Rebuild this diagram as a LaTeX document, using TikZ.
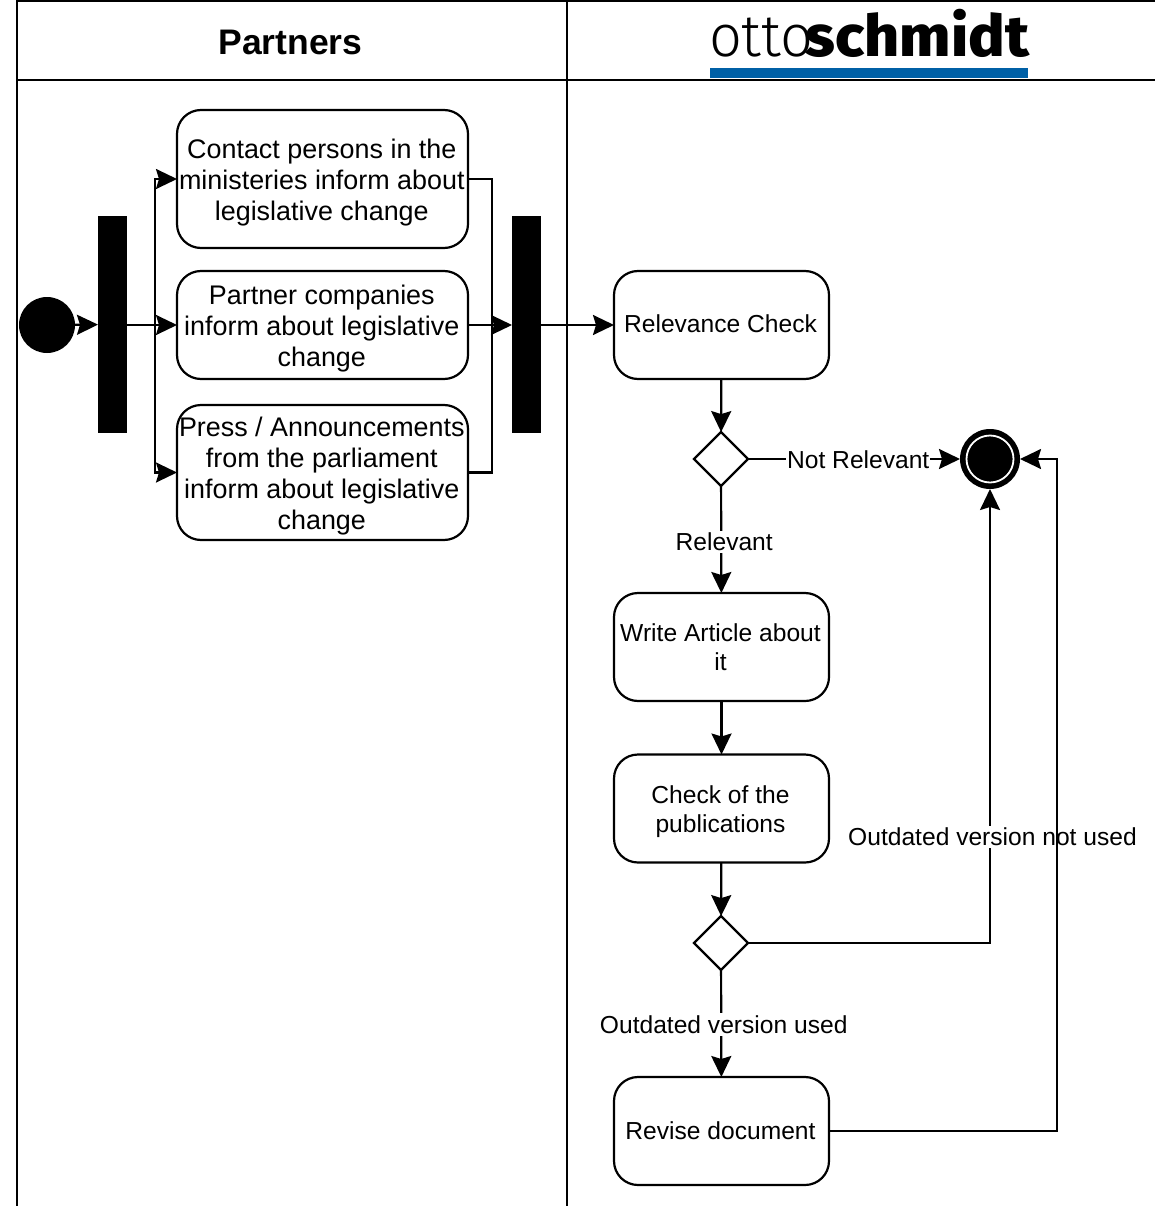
\documentclass[tikz,border=0pt]{standalone}
\usepackage{fontspec}
\setmainfont{Liberation Sans}
\newfontfamily\logolight{Fira Sans Light}
\newfontfamily\logobold{Fira Sans ExtraBold}
\usetikzlibrary{arrows.meta,shapes.geometric,calc}
\definecolor{logoblue}{HTML}{0060A6}
\tikzset{
  x=1pt,y=-1pt,
  every node/.style={outer sep=0pt,inner sep=0pt},
  lane/.style={line width=2pt,draw=black},
  bigtxt/.style={font=\fontsize{26.9}{31.3}\selectfont,align=center},
  smalltxt/.style={font=\fontsize{24.6}{29}\selectfont,align=center},
  box/.style={draw=black,line width=2.2pt,rounded corners=24pt,fill=white},
  partnerbox/.style={box,minimum width=291pt},
  actionbox/.style={box,minimum width=215pt,minimum height=108pt},
  ptext/.style={label={[bigtxt,xshift=-0.7pt,yshift=-3.5pt]center:#1}},
  atext/.style 2 args={label={[smalltxt,xshift=-1pt,yshift=#1]center:#2}},
  bar/.style={fill=black,minimum width=29pt,minimum height=217pt},
  decision/.style={draw=black,line width=2.2pt,diamond,aspect=1,minimum width=54pt,minimum height=54pt,fill=white},
  conn/.style={line width=2.2pt,-{Stealth[length=21pt,width=20pt,inset=3pt]}},
  plain/.style={line width=2.2pt},
  edgelabel/.style={smalltxt,fill=white,inner xsep=1pt,inner ysep=2pt},
}
\begin{document}
\begin{tikzpicture}
\useasboundingbox (0,0) rectangle (1155,1206);
% swimlanes
\coordinate (tl) at (17,1); \coordinate (tr) at (1155,1);
\coordinate (hl) at (17,80); \coordinate (hr) at (1155,80);
\coordinate (bl) at (17,1206); \coordinate (tm) at (567,1); \coordinate (bm) at (567,1206);
\draw[lane] (bl) -- (tl) -- (tr);
\draw[lane] (hl) -- (hr);
\draw[lane] (tm) -- (bm);
\node (partners) at (290.5,42) {\fontsize{35.5}{40}\selectfont\bfseries Partners};
% logo
\node[anchor=base west] (otto) at (709,57) {\scalebox{0.93}[0.95]{\fontsize{62}{62}\selectfont\logolight otto}};
\node[anchor=base east] (schmidt) at (1029,57) {\scalebox{0.985}[0.93]{\fontsize{62}{62}\selectfont\logobold schmidt}};
\node[fill=logoblue,minimum width=318pt,minimum height=10pt] (logobar) at (869,73) {};
% nodes
\node[circle,fill=black,minimum size=56pt] (start) at (47,325) {};
\node[bar] (bar1) at (112.5,324.5) {};
\node[bar] (bar2) at (526.5,324.5) {};
\node[partnerbox,minimum height=138pt,ptext={Contact persons in the\\ministeries inform about\\legislative change}] (box1) at (322.5,179) {};
\node[partnerbox,minimum height=108pt,ptext={Partner companies\\inform about legislative\\change}] (box2) at (322.5,325) {};
\node[partnerbox,minimum height=135pt,ptext={Press / Announcements\\from the parliament\\inform about legislative\\change}] (box3) at (322.5,472.5) {};
\node[actionbox,atext={1pt}{Relevance Check}] (relevance) at (721.5,325) {};
\node[decision] (dec1) at (721,459) {};
\node[circle,fill=black,minimum size=60pt] (final) at (990,459) {};
\node[circle,draw=white,line width=1.8pt,minimum size=47pt] (finalring) at (990,459) {};
\node[actionbox,atext={0pt}{Write Article about\\it}] (write) at (721.5,647) {};
\node[actionbox,atext={-2.7pt}{Check of the\\publications}] (check) at (721.5,808.5) {};
\node[decision] (dec2) at (721,943) {};
\node[actionbox,atext={0pt}{Revise document}] (revise) at (721.5,1131) {};
\coordinate (fork) at (155,325);
\coordinate (join) at (492,325);
\coordinate (rvturn) at (1057,459);
% connectors
\draw[conn] (start) -- (bar1);
\draw[conn] (bar1.east |- fork) -- (box2);
\draw[conn] (fork) |- (box1.west);
\draw[conn] (fork) |- (box3.west);
\draw[plain] (box1.east) -| (join);
\draw[plain] (box3.east) -| (join);
\draw[conn] (box2) -- (bar2.west |- box2);
\draw[conn] (bar2.east |- relevance) -- (relevance);
\draw[conn] (relevance) -- (dec1);
\draw[conn] (dec1) -- node[edgelabel,pos=0.52,yshift=-1pt] (lnot) {Not Relevant} (final);
\draw[conn] (dec1) -- node[edgelabel,pos=0.51,xshift=3pt,yshift=-1pt] (lrel) {Relevant} (write);
\draw[conn] (write) -- (check);
\draw[conn] (check) -- (dec2);
\draw[conn] (dec2) -- node[edgelabel,pos=0.5,xshift=2.5pt,yshift=-1pt] (lused) {Outdated version used} (revise);
\draw[conn] (dec2.east) -| (final.south);
\node[edgelabel] (lnotused) at (992.5,837) {Outdated version not used};
\draw[conn] (revise.east) -| (rvturn) -- (final.east);
\end{tikzpicture}
\end{document}
